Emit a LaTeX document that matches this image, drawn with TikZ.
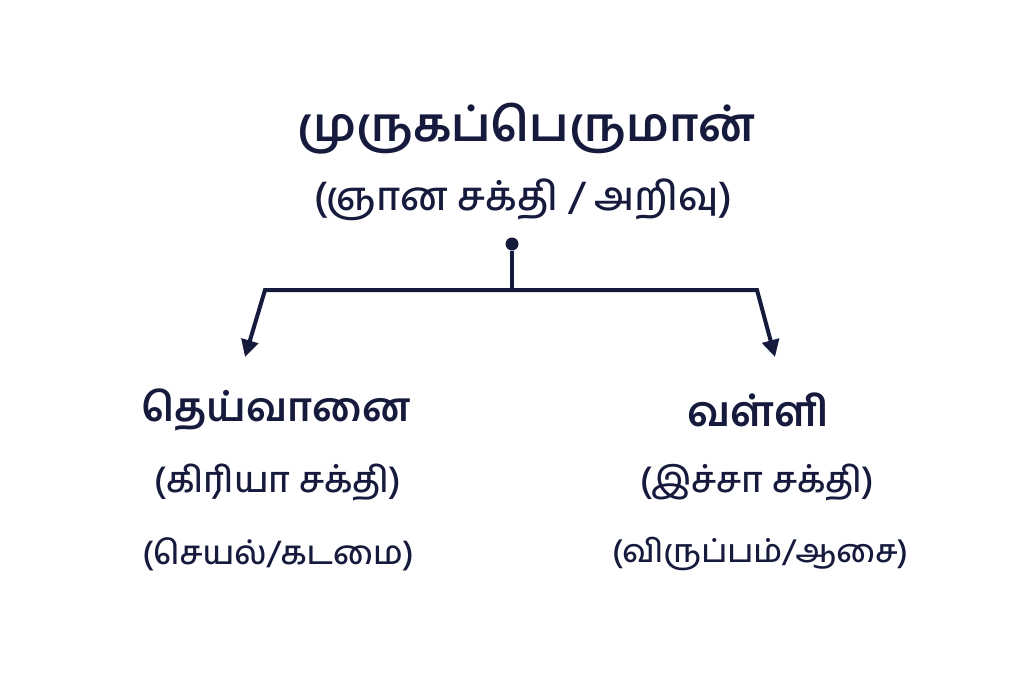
\documentclass[tikz,border=0pt]{standalone}
\usepackage{fontspec}
\newfontfamily\tamilfont[Script=Tamil]{Hind Madurai}
\newfontfamily\tamilmed[Script=Tamil]{Hind Madurai Medium}
\usetikzlibrary{arrows.meta}
\definecolor{navy}{HTML}{161B3D}
\tikzset{every node/.append style={text=navy, font=\tamilfont}}
\tikzset{headname/.style={font=\tamilfont\bfseries\fontsize{#1}{#1}\selectfont}}
\tikzset{subline/.style={font=\tamilmed\fontsize{#1}{#1}\selectfont}}

\begin{document}
\begin{tikzpicture}[x=1pt, y=-1pt, >={Triangle[width=17pt,length=17pt]}]
    \useasboundingbox[fill=white] (0,0) rectangle (1024,683);
    % top
    \node[headname=47] (murugan) at (526,129) {முருகப்பெருமான்};
    \node[subline=40] (gnana) at (523,200) {(ஞான சக்தி / அறிவு)};
    % left
    \node[headname=40] (deivanai) at (276,410) {தெய்வானை};
    \node[subline=36] (kriya) at (278,482) {(கிரியா சக்தி)};
    \node[subline=33] (seyal) at (278,554) {(செயல்/கடமை)};
    % right
    \node[headname=42] (valli) at (758,410) {வள்ளி};
    \node[subline=36] (iccha) at (757,482) {(இச்சா சக்தி)};
    \node[subline=32] (virup) at (760,554) {(விருப்பம்/ஆசை)};
    % connector
    \node[circle, fill=navy, inner sep=0pt, minimum size=13pt] (dot) at (512,244) {};
    \coordinate (fork) at (512,290);
    \coordinate (lcorner) at (265,290);
    \coordinate (rcorner) at (757,290);
    \coordinate (ltip) at (245,357);
    \coordinate (rtip) at (775,357);
    \draw[navy, line width=4pt] (dot) -- (fork);
    \draw[navy, line width=4pt, ->] (fork) -- (lcorner) -- (ltip);
    \draw[navy, line width=4pt, ->] (fork) -- (rcorner) -- (rtip);
\end{tikzpicture}
\end{document}
